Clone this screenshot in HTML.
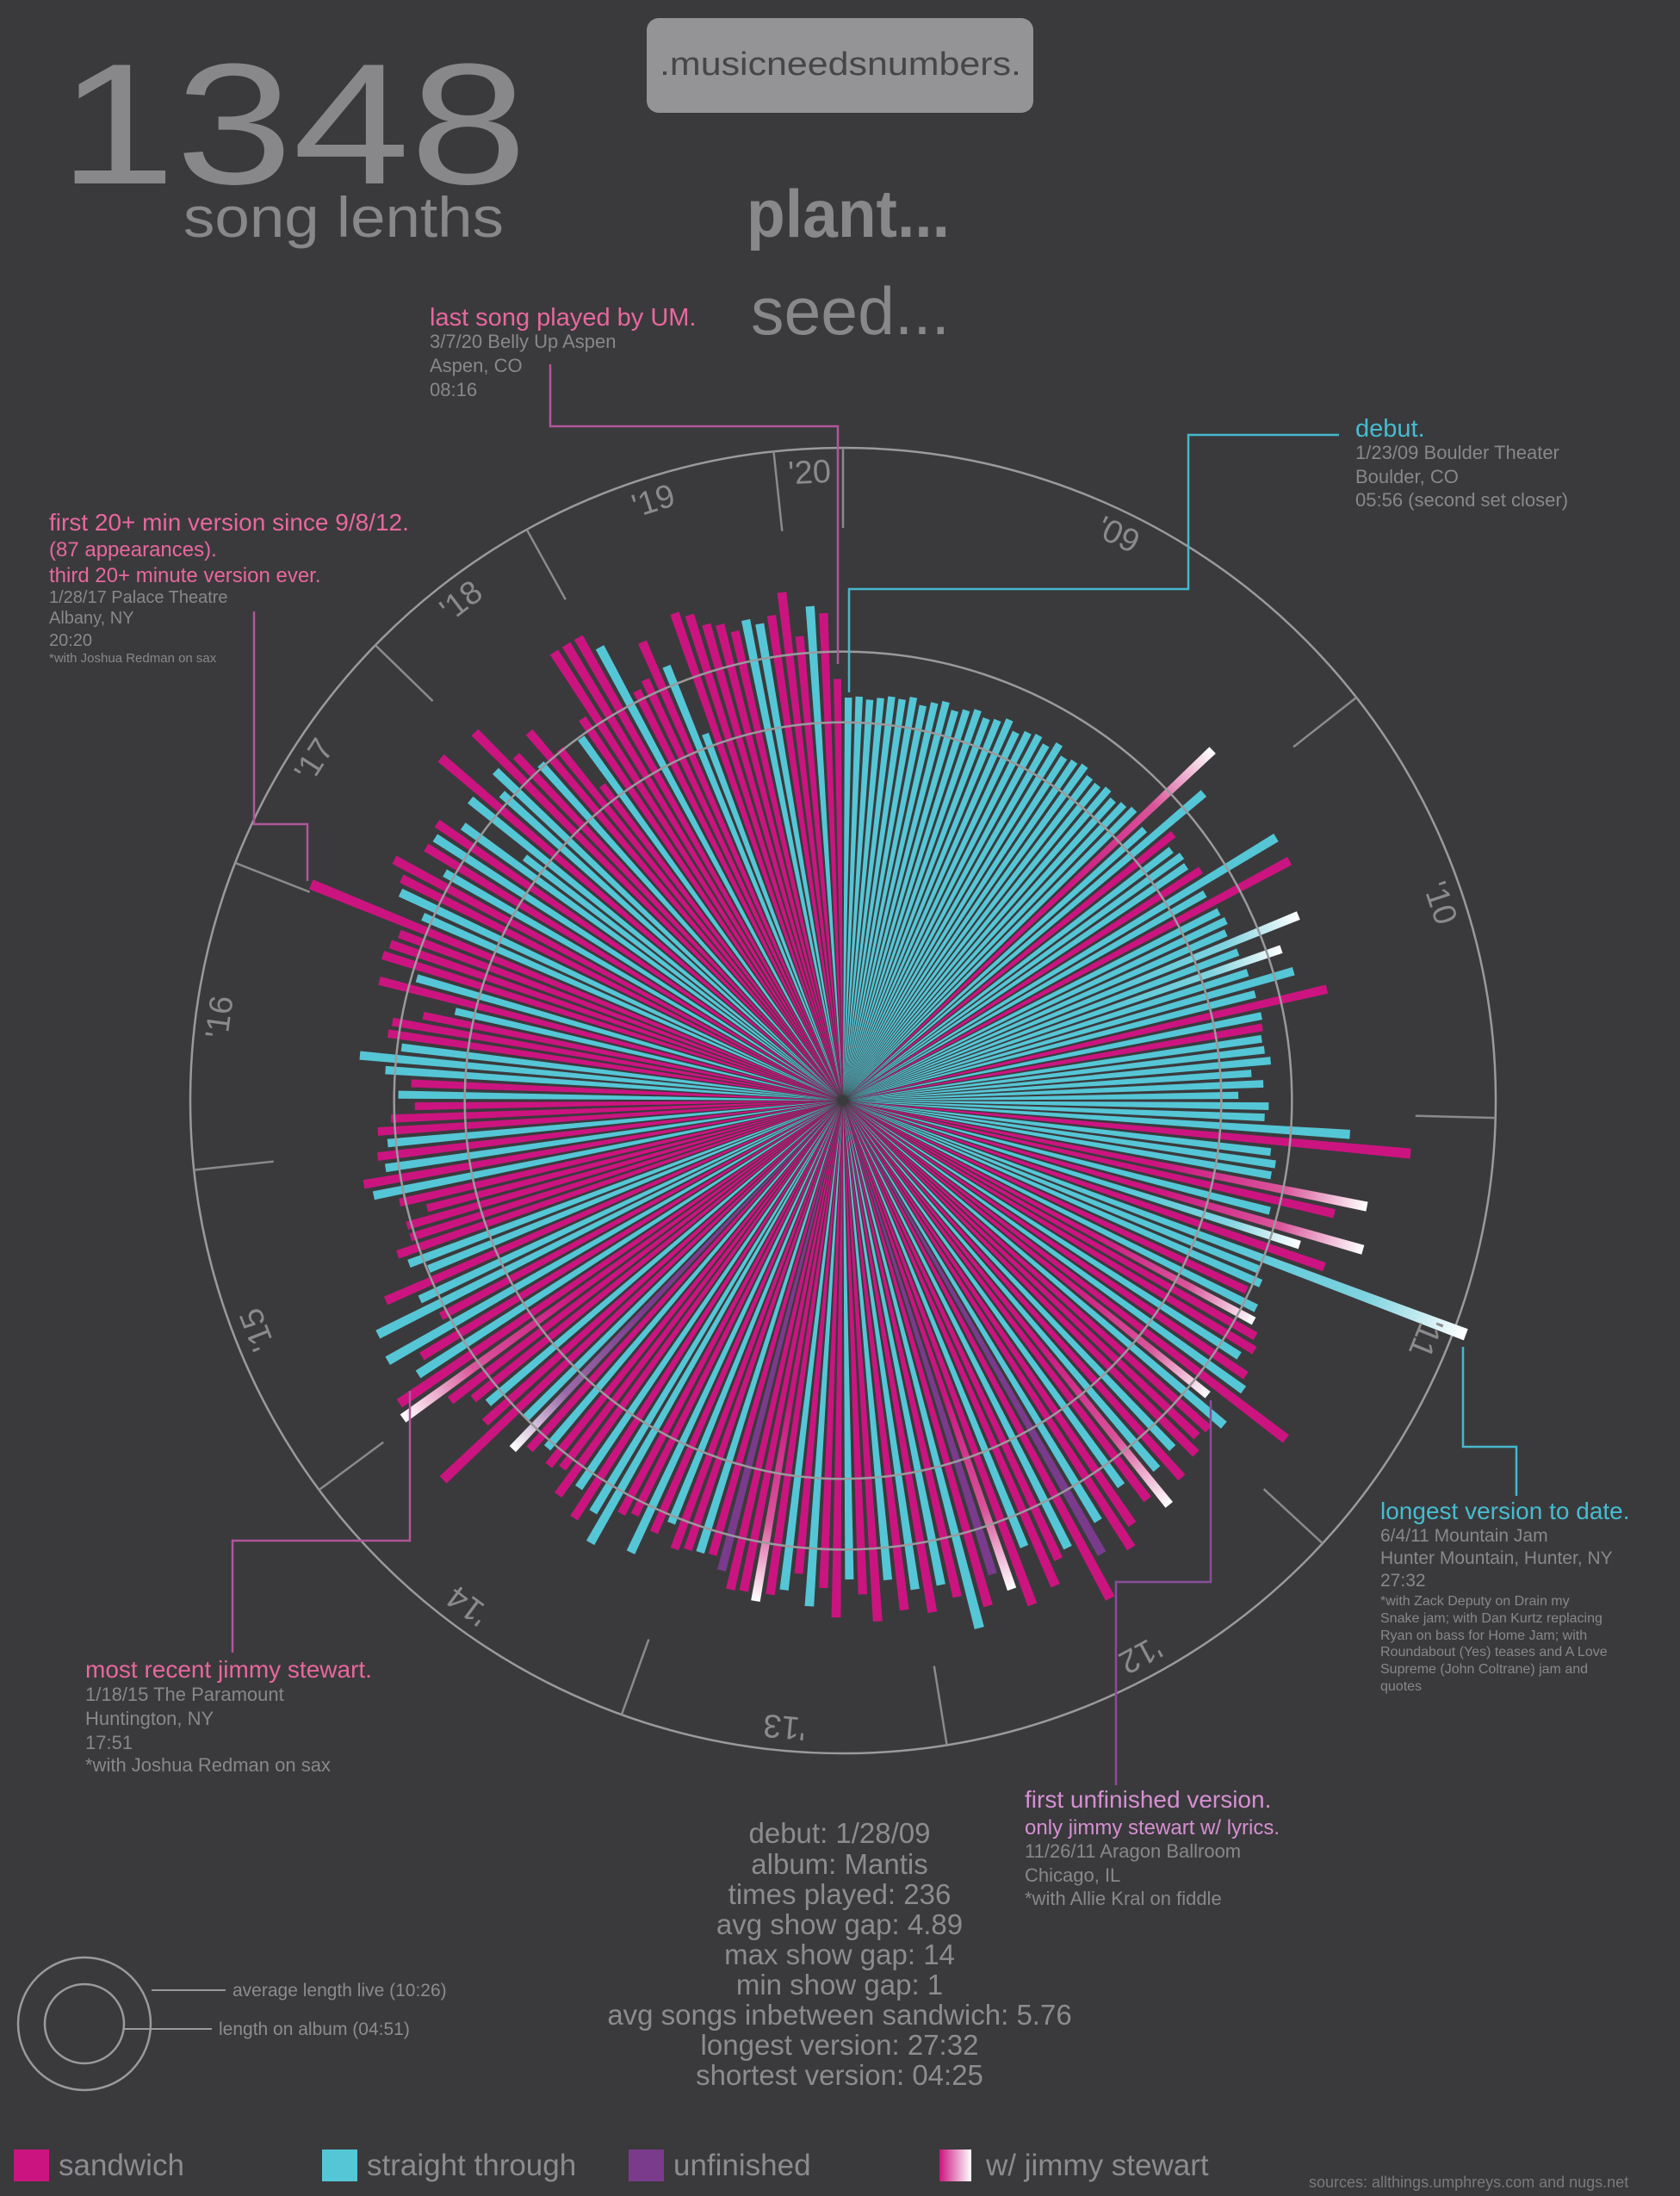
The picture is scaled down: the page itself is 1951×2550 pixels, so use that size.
<!DOCTYPE html>
<html><head><meta charset="utf-8"><style>
html,body{margin:0;padding:0;background:#3a3a3c;}
svg{display:block;}
text{font-family:"Liberation Sans",sans-serif;}
</style></head><body>
<svg id="root" width="1951" height="2550" viewBox="0 0 1951 2550" xmlns="http://www.w3.org/2000/svg">
<defs id="defs"></defs>
<rect x="0" y="0" width="1951" height="2550" fill="#3a3a3c"/>

<text x="68" y="213" font-size="200" fill="#88888a" textLength="544" lengthAdjust="spacingAndGlyphs">1348</text>
<text x="213" y="275" font-size="66" fill="#88888a" textLength="372" lengthAdjust="spacingAndGlyphs">song lenths</text>

<rect x="751" y="21" width="449" height="110" rx="14" fill="#949496"/>
<text x="766" y="87" font-size="38" fill="#464648" textLength="420" lengthAdjust="spacingAndGlyphs">.musicneedsnumbers.</text>

<text x="867" y="275" font-size="78" font-weight="bold" fill="#88888a" textLength="236" lengthAdjust="spacingAndGlyphs">plant...</text>
<text x="872" y="388" font-size="78" fill="#88888a" textLength="231" lengthAdjust="spacingAndGlyphs">seed...</text>

<g id="chart" transform="translate(979,1278)"></g>

<polyline points="639,423 639,495 973,495 973,771" fill="none" stroke="#b0569a" stroke-width="2.5"/>
<polyline points="1555,505 1380,505 1380,684 986,684 986,804" fill="none" stroke="#46b8cc" stroke-width="2.5"/>
<polyline points="295,710 295,957 357,957 357,1023" fill="none" stroke="#b0569a" stroke-width="2.5"/>
<polyline points="1699,1564 1699,1680 1761,1680 1761,1737" fill="none" stroke="#46b8cc" stroke-width="2.5"/>
<polyline points="476,1615 476,1789 270,1789 270,1919" fill="none" stroke="#b0569a" stroke-width="2.5"/>
<polyline points="1406,1626 1406,1837 1296,1837 1296,2073" fill="none" stroke="#8a4e9a" stroke-width="2.5"/>

<g>
<text x="499" y="378" font-size="29" fill="#e8679e">last song played by UM.</text>
<text x="499" y="404" font-size="22" fill="#88888a">3/7/20 Belly Up Aspen</text>
<text x="499" y="432" font-size="22" fill="#88888a">Aspen, CO</text>
<text x="499" y="460" font-size="22" fill="#88888a">08:16</text>
</g>
<g>
<text x="1574" y="507" font-size="29" fill="#46bcd0">debut.</text>
<text x="1574" y="533" font-size="22" fill="#88888a">1/23/09 Boulder Theater</text>
<text x="1574" y="561" font-size="22" fill="#88888a">Boulder, CO</text>
<text x="1574" y="588" font-size="22" fill="#88888a">05:56 (second set closer)</text>
</g>
<g>
<text x="57" y="616" font-size="28" fill="#e8679e">first 20+ min version since 9/8/12.</text>
<text x="57" y="646" font-size="24" fill="#e8679e">(87 appearances).</text>
<text x="57" y="676" font-size="24" fill="#e8679e">third 20+ minute version ever.</text>
<text x="57" y="700" font-size="20" fill="#88888a">1/28/17 Palace Theatre</text>
<text x="57" y="724" font-size="20" fill="#88888a">Albany, NY</text>
<text x="57" y="750" font-size="20" fill="#88888a">20:20</text>
<text x="57" y="769" font-size="15" fill="#88888a">*with Joshua Redman on sax</text>
</g>
<g>
<text x="1603" y="1764" font-size="28" fill="#46bcd0">longest version to date.</text>
<text x="1603" y="1790" font-size="21" fill="#88888a">6/4/11 Mountain Jam</text>
<text x="1603" y="1816" font-size="21" fill="#88888a">Hunter Mountain, Hunter, NY</text>
<text x="1603" y="1842" font-size="21" fill="#88888a">27:32</text>
<text x="1603" y="1864" font-size="16" fill="#88888a">*with Zack Deputy on Drain my</text>
<text x="1603" y="1884" font-size="16" fill="#88888a">Snake jam; with Dan Kurtz replacing</text>
<text x="1603" y="1904" font-size="16" fill="#88888a">Ryan on bass for Home Jam; with</text>
<text x="1603" y="1923" font-size="16" fill="#88888a">Roundabout (Yes) teases and A Love</text>
<text x="1603" y="1943" font-size="16" fill="#88888a">Supreme (John Coltrane) jam and</text>
<text x="1603" y="1963" font-size="16" fill="#88888a">quotes</text>
</g>
<g>
<text x="99" y="1948" font-size="28" fill="#e8679e">most recent jimmy stewart.</text>
<text x="99" y="1975" font-size="22" fill="#88888a">1/18/15 The Paramount</text>
<text x="99" y="2003" font-size="22" fill="#88888a">Huntington, NY</text>
<text x="99" y="2031" font-size="22" fill="#88888a">17:51</text>
<text x="99" y="2057" font-size="22" fill="#88888a">*with Joshua Redman on sax</text>
</g>
<g>
<text x="1190" y="2099" font-size="28" fill="#d68fd2">first unfinished version.</text>
<text x="1190" y="2130" font-size="24" fill="#d68fd2">only jimmy stewart w/ lyrics.</text>
<text x="1190" y="2157" font-size="22" fill="#88888a">11/26/11 Aragon Ballroom</text>
<text x="1190" y="2185" font-size="22" fill="#88888a">Chicago, IL</text>
<text x="1190" y="2212" font-size="22" fill="#88888a">*with Allie Kral on fiddle</text>
</g>

<g font-size="33" fill="#8c8c8e" text-anchor="middle">
<text x="975" y="2140">debut: 1/28/09</text>
<text x="975" y="2176">album: Mantis</text>
<text x="975" y="2211">times played: 236</text>
<text x="975" y="2246">avg show gap: 4.89</text>
<text x="975" y="2281">max show gap: 14</text>
<text x="975" y="2316">min show gap: 1</text>
<text x="975" y="2351">avg songs inbetween sandwich: 5.76</text>
<text x="975" y="2386">longest version: 27:32</text>
<text x="975" y="2421">shortest version: 04:25</text>
</g>

<g>
<circle cx="98" cy="2350" r="77" fill="none" stroke="#9a9a9c" stroke-width="2.5"/>
<circle cx="98" cy="2350" r="46" fill="none" stroke="#9a9a9c" stroke-width="2.5"/>
<line x1="176" y1="2311" x2="262" y2="2311" stroke="#9a9a9c" stroke-width="2"/>
<line x1="144" y1="2356" x2="246" y2="2356" stroke="#9a9a9c" stroke-width="2"/>
<text x="270" y="2318" font-size="21" fill="#8c8c8e">average length live (10:26)</text>
<text x="254" y="2363" font-size="21" fill="#8c8c8e">length on album (04:51)</text>
</g>

<g>
<g><rect x="16" y="2496" width="41" height="37" fill="#cc1480"/><text x="68" y="2526" font-size="35" fill="#8c8c8e">sandwich</text></g>
<g><rect x="374" y="2496" width="41" height="37" fill="#55c6d6"/><text x="426" y="2526" font-size="35" fill="#8c8c8e">straight through</text></g>
<g><rect x="730" y="2496" width="41" height="37" fill="#7a3b8c"/><text x="782" y="2526" font-size="35" fill="#8c8c8e">unfinished</text></g>
<g><rect x="1091" y="2496" width="37" height="37" fill="url(#legendJimmy)"/><text x="1145" y="2526" font-size="35" fill="#8c8c8e">w/ jimmy stewart</text></g>
</g>
<text x="1520" y="2540" font-size="18" fill="#7a7a7c">sources: allthings.umphreys.com and nugs.net</text>
</svg>
<script>
// data: song lengths (minutes) in play order, clockwise from debut
const years = ["'09","'10","'11","'12","'13","'14","'15","'16","'17","'18","'19","'20"];
const yearCounts = [34,26,27,25,19,22,20,18,15,11,15,4];
const lengths = [
 6.8,6.9,6.7,6.9,7.1,7.0,7.3,6.8,7.2,7.5,7.0,7.3,7.6,7.2,7.4,7.8,7.1,7.5,7.7,7.3,7.9,7.2,7.4,7.6,7.1,7.0,7.3,6.9,7.2,7.5,15.2,7.0,12.4,8.5,
 7.6,8.0,7.8,8.6,15.0,7.9,15.0,8.2,8.4,8.0,13.8,8.3,11.6,8.5,12.0,8.6,14.2,8.7,8.6,8.4,8.5,8.9,7.3,8.2,6.2,8.6,
 8.3,15.1,20.0,9.0,9.5,9.3,17.2,14.8,9.8,17.7,12.8,15.2,27.53,10.5,11.0,10.2,11.5,11.8,12.5,13.0,12.2,13.5,14.0,19.0,12.0,14.5,13.8,
 13.5,14.4,12.8,15.0,13.2,16.0,14.6,12.5,15.5,17.0,13.8,16.2,19.6,14.5,15.0,16.8,13.0,17.5,15.8,14.2,16.5,18.0,15.2,14.0,16.0,
 14.0,15.5,13.0,16.2,14.0,12.8,15.8,13.5,15.0,12.5,13.9,14.4,15.1,14.5,14.6,13.3,12.3,12.4,12.5,
 12.8,11.0,12.2,14.4,11.6,12.0,15.2,13.0,14.2,12.0,13.4,11.5,12.0,11.0,12.0,12.9,10.5,18.5,13.0,11.8,12.5,14.0,
 17.85,17.4,14.9,13.9,16.4,11.0,16.1,11.9,14.4,10.3,11.6,12.2,10.8,10.8,8.9,10.9,12.8,13.4,11.5,12.0,
 11.1,11.8,10.7,8.8,10.1,9.1,11.2,13.3,10.1,11.3,11.1,8.8,6.4,12.8,10.0,13.1,12.8,12.4,
 20.33,11.2,13.6,14.0,15.2,11.2,13.5,13.3,13.8,12.0,6.6,12.8,16.7,11.2,12.8,
 16.1,12.5,10.7,13.2,10.6,6.3,10.3,11.5,17.1,17.1,17.1,
 15.6,11.2,11.7,14.5,12.0,5.9,15.7,15.2,14.1,13.8,13.0,13.7,13.2,13.7,15.4,
 11.8,14.1,13.5,8.27
];
// s = sandwich, t = straight through, u = unfinished, j = sandwich w/ jimmy, jt = straight w/ jimmy, ju = unfinished w/ jimmy
const types = [
 't','t','t','t','t','t','t','t','t','t','t','t','t','t','t','t','t','t','t','t','t','t','t','t','t','t','t','t','t','t','j','t','t','s',
 't','t','t','s','t','t','s','t','t','t','jt','t','jt','t','t','t','s','t','s','t','t','t','t','t','t','t',
 't','t','s','t','t','t','j','s','t','j','jt','s','jt','t','t','s','t','j','s','s','t','s','t','s','j','t','s',
 's','s','t','s','t','j','s','t','s','s','t','u','s','t','s','s','t','s','j','u','s','t','s','t','s',
 't','s','t','s','s','t','s','s','t','s','t','s','j','s','s','u','s','t','s',
 's','t','s','t','s','s','t','t','s','t','s','s','s','t','s','ju','t','s','s','t','s','s',
 'j','s','t','s','t','s','t','t','s','t','t','s','s','s','s','s','t','s','t','s',
 't','s','s','s','t','s','t','t','t','s','s','s','t','s','t','s','s','s',
 's','t','t','s','s','t','s','t','s','t','t','t','s','t','t',
 's','s','t','s','s','s','t','s','s','s','s',
 't','s','s','s','t','t','s','s','s','s','s','t','t','s','s',
 's','t','s','s'
];
const albumLength = 4.85;
const avgLength = 10.43;

const NS = 'http://www.w3.org/2000/svg';
const chart = document.getElementById('chart');
const defs = document.getElementById('defs');
const N = lengths.length;
const step = 360 / N;
const R0 = 368, K = 14.7, RING = 758;
function rScale(v){ return R0 + K * v; }
function aScale(i){ return i * step; }
function pt(r, deg){ const a = deg * Math.PI / 180; return [r * Math.sin(a), -r * Math.cos(a)]; }
const colors = {s:'#cc1480', t:'#55c6d6', u:'#7a3b8c', j:'#cc1480', jt:'#55c6d6', ju:'#7a3b8c'};
const midColors = {j:'#d9559a', jt:'#7fd3df', ju:'#9a6aa8'};

const lg = document.createElementNS(NS,'linearGradient');
lg.setAttribute('id','legendJimmy');
lg.innerHTML = '<stop offset="0" stop-color="#cc1480"/><stop offset="1" stop-color="#ffffff"/>';
defs.appendChild(lg);

function circ(r, name){
  const c = document.createElementNS(NS,'circle');
  c.setAttribute('r', r);
  c.setAttribute('fill','none');
  c.setAttribute('stroke', '#9a9a9c');
  c.setAttribute('stroke-width', 2.5);
  
  
  chart.appendChild(c);
}
circ(RING, 'outer-year-ring');

for (let i = 0; i < N; i++) {
  const v = lengths[i], ty = types[i];
  const a = aScale(i) + step / 2, h = step * 0.34;
  const r1 = 6, r2 = rScale(v);
  const p = [pt(r1, a - h*0.1), pt(r2, a - h), pt(r2, a + h), pt(r1, a + h*0.1)];
  const poly = document.createElementNS(NS,'polygon');
  poly.setAttribute('points', p.map(q => q[0].toFixed(2)+','+q[1].toFixed(2)).join(' '));
  let fill = colors[ty];
  if (midColors[ty]) {
    const g = document.createElementNS(NS,'linearGradient');
    g.setAttribute('id','jg'+i);
    g.setAttribute('gradientUnits','userSpaceOnUse');
    const s0 = pt(r2*0.6, a), s1 = pt(r2, a);
    g.setAttribute('x1', s0[0]); g.setAttribute('y1', s0[1]);
    g.setAttribute('x2', s1[0]); g.setAttribute('y2', s1[1]);
    g.innerHTML = '<stop offset="0" stop-color="'+colors[ty]+'"/><stop offset="0.6" stop-color="'+midColors[ty]+'"/><stop offset="1" stop-color="#ffffff"/>';
    defs.appendChild(g);
    fill = 'url(#jg'+i+')';
  }
  poly.setAttribute('fill', fill);
  
  
  chart.appendChild(poly);
}

circ(rScale(albumLength), 'album-length-circle');
circ(rScale(avgLength), 'average-length-circle');

let idx = 0;
for (let y = 0; y < years.length; y++) {
  const a0 = aScale(idx);
  const t0 = pt(RING, a0), t1 = pt(RING - 93, a0);
  const ln = document.createElementNS(NS,'line');
  ln.setAttribute('x1', t0[0]); ln.setAttribute('y1', t0[1]);
  ln.setAttribute('x2', t1[0]); ln.setAttribute('y2', t1[1]);
  ln.setAttribute('stroke', '#8a8a8c');
  ln.setAttribute('stroke-width', 2.5);
  
  
  chart.appendChild(ln);
  const mid = aScale(idx + yearCounts[y] / 2);
  const lp = pt(RING - 30, mid);
  const tx = document.createElementNS(NS,'text');
  tx.setAttribute('transform', 'translate('+lp[0].toFixed(1)+','+lp[1].toFixed(1)+') rotate('+mid.toFixed(1)+')');
  tx.setAttribute('text-anchor','middle');
  tx.setAttribute('dominant-baseline','middle');
  tx.setAttribute('font-size', 38);
  tx.setAttribute('fill', '#8a8a8c');
  tx.textContent = years[y];
  
  
  chart.appendChild(tx);
  idx += yearCounts[y];
}
</script>
</body></html>
